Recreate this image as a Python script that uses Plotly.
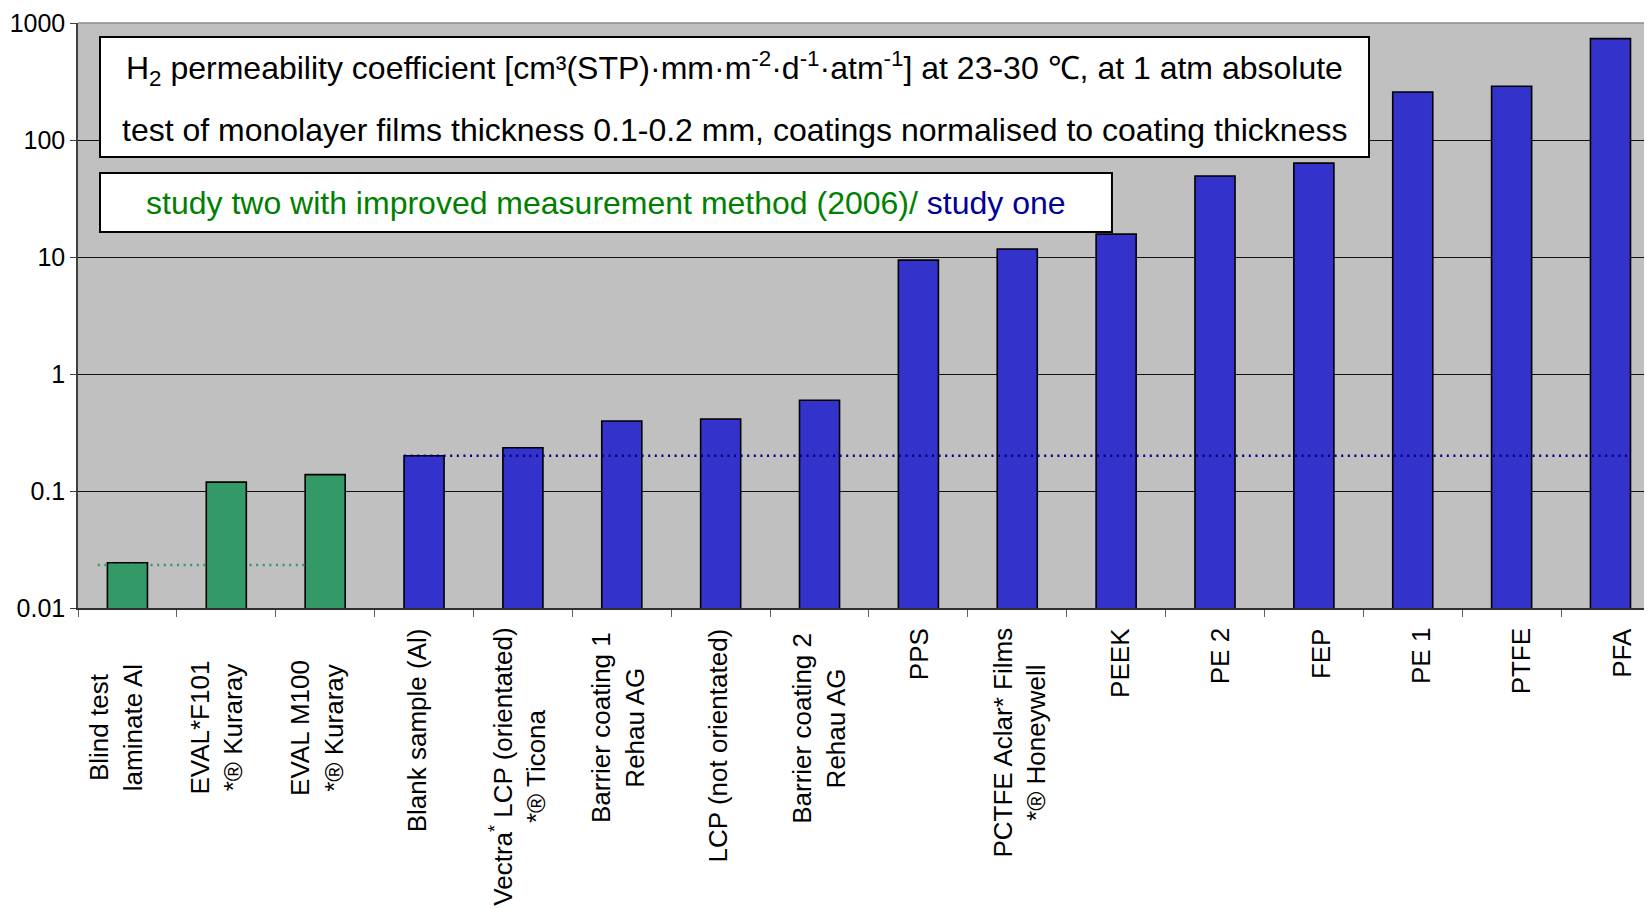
import plotly.graph_objects as go

# ---------------- data ----------------
categories = [
    "Blind test laminate Al", "EVAL F101", "EVAL M100", "Blank sample (Al)",
    "Vectra LCP (orientated)", "Barrier coating 1", "LCP (not orientated)",
    "Barrier coating 2", "PPS", "PCTFE Aclar Films", "PEEK", "PE 2", "FEP",
    "PE 1", "PTFE", "PFA",
]
category_labels = [
    "Blind test<br>laminate Al",
    "EVAL*F101<br>*® Kuraray",
    "EVAL M100<br>*® Kuraray",
    "Blank sample (Al)",
    "Vectra<sup>*</sup> LCP (orientated)<br>*® Ticona",
    "Barrier coating 1<br>Rehau AG",
    "LCP (not orientated)",
    "Barrier coating 2<br>Rehau AG",
    "PPS",
    "PCTFE Aclar* Films<br>*® Honeywell",
    "PEEK",
    "PE 2",
    "FEP",
    "PE 1",
    "PTFE",
    "PFA",
]
permeability = [0.0244, 0.119, 0.138, 0.200, 0.234, 0.396, 0.412, 0.596,
                9.4, 11.7, 15.7, 49.2, 63.5, 257, 288, 735]
study = ["two", "two", "two"] + ["one"] * 13

# dotted reference levels: study two (blind test) and study one (blank sample)
reference_levels = {"two": 0.0233, "one": 0.200}

y_tickvals = [0.01, 0.1, 1, 10, 100, 1000]
y_ticktext = ["0.01", "0.1", "1", "10", "100", "1000"]

title_line1 = ("H<sub>2</sub> permeability coefficient [cm³(STP)·mm·m<sup>-2</sup>·d<sup>-1</sup>"
               "·atm<sup>-1</sup>] at 23-30 ℃, at 1 atm absolute")
title_line2 = "test of monolayer films thickness 0.1-0.2 mm, coatings normalised to coating thickness"
legend_two = "study two with improved measurement method (2006)/ "
legend_one = "study one"

# ---------------- style ----------------
FONT = "Liberation Sans, Arial, sans-serif"
GREEN = "#339966"
BLUE = "#3333CC"
BAR_W = 0.405
X_RANGE = [-0.5, 15.42]

fig = go.Figure()
for grp, color in (("two", GREEN), ("one", BLUE)):
    xs = [c for c, s in zip(categories, study) if s == grp]
    ys = [v for v, s in zip(permeability, study) if s == grp]
    fig.add_trace(go.Bar(
        x=xs, y=ys, width=BAR_W, name="study " + grp,
        marker=dict(color=color, line=dict(color="black", width=1.6)),
        showlegend=False, hoverinfo="x+y",
    ))

i_blind = categories.index("Blind test laminate Al")
i_blank = categories.index("Blank sample (Al)")
i_m100 = categories.index("EVAL M100")
i_last = len(categories) - 1

fig.add_trace(go.Scatter(
    x=[i_blind - 0.3, i_m100 - BAR_W / 2],
    y=[reference_levels["two"]] * 2,
    xaxis="x2", yaxis="y", mode="lines", showlegend=False, hoverinfo="skip",
    line=dict(color=GREEN, width=2.6, dash="2px,4.6px"),
))
fig.add_trace(go.Scatter(
    x=[i_blank - BAR_W / 2, i_last + BAR_W / 2],
    y=[reference_levels["one"]] * 2,
    xaxis="x2", yaxis="y", mode="lines", showlegend=False, hoverinfo="skip",
    line=dict(color="#000080", width=2.6, dash="2px,4.6px"),
))

shapes = [
    dict(type="line", xref="paper", yref="paper", x0=0, x1=1, y0=1, y1=1,
         line=dict(color="#8c8c8c", width=1.5), layer="above"),
    dict(type="rect", xref="paper", yref="paper", x0=0.01398, x1=0.8202, y0=0.7709, y1=0.9761,
         fillcolor="white", line=dict(color="black", width=2), layer="above"),
    dict(type="rect", xref="paper", yref="paper", x0=0.01398, x1=0.6569, y0=0.6427, y1=0.7436,
         fillcolor="white", line=dict(color="black", width=2), layer="above"),
]

annotations = [
    dict(text=title_line1, xref="paper", yref="paper", x=0.4171, y=0.9215,
         showarrow=False, xanchor="center", yanchor="middle",
         font=dict(family=FONT, size=32, color="black")),
    dict(text=title_line2, xref="paper", yref="paper", x=0.4171, y=0.8171,
         showarrow=False, xanchor="center", yanchor="middle",
         font=dict(family=FONT, size=32, color="black")),
    dict(text=f"<span style='color:#008000'>{legend_two}</span>"
              f"<span style='color:#000099'>{legend_one}</span>",
         xref="paper", yref="paper", x=0.3355, y=0.6923,
         showarrow=False, xanchor="center", yanchor="middle",
         font=dict(family=FONT, size=32, color="#008000")),
]
n = len(categories)
for i, (cat, lab) in enumerate(zip(categories, category_labels)):
    lines = lab.split("<br>")
    # short wrapped labels are centred in the label band, long ones hang from the axis
    centred = len(lines) > 1 and max(len(s) for s in lines) <= 17
    annotations.append(dict(
        text=lab, x=cat, xref="x", y=0, yref="paper",
        yshift=-120 if centred else -18,
        yanchor="middle" if centred else "top",
        xshift=(i - (n - 1) / 2) * 1.5,
        showarrow=False, textangle=-90, xanchor="center",
        align="center", font=dict(family=FONT, size=26, color="black"),
    ))

# page body has an 8px default margin: figure is sized so the plot lands in place
fig.update_layout(
    width=1644, height=901,
    margin=dict(l=70, r=0, t=15, b=301, autoexpand=False),
    paper_bgcolor="white",
    plot_bgcolor="#C0C0C0",
    barmode="overlay",
    shapes=shapes,
    annotations=annotations,
    font=dict(family=FONT, color="black"),
    xaxis2=dict(overlaying="x", anchor="y", range=X_RANGE, visible=False, fixedrange=True),
)
fig.layout.xaxis.update(
    type="category", categoryorder="array", categoryarray=categories,
    range=X_RANGE, showticklabels=False, showgrid=False,
    showline=True, linecolor="#303030", linewidth=2,
    ticks="outside", tickson="boundaries", ticklen=7, tickcolor="#606060", tickwidth=1.3,
    fixedrange=True,
)
fig.update_yaxes(
    type="log", range=[-2, 3],
    tickvals=y_tickvals, ticktext=y_ticktext,
    tickfont=dict(family=FONT, size=25, color="black"),
    showgrid=True, gridcolor="#111111", gridwidth=1.2,
    showline=True, linecolor="#404040", linewidth=1.5,
    ticks="outside", ticklen=6, tickcolor="#404040",
    zeroline=False, fixedrange=True,
)

fig.write_html("out.html")
